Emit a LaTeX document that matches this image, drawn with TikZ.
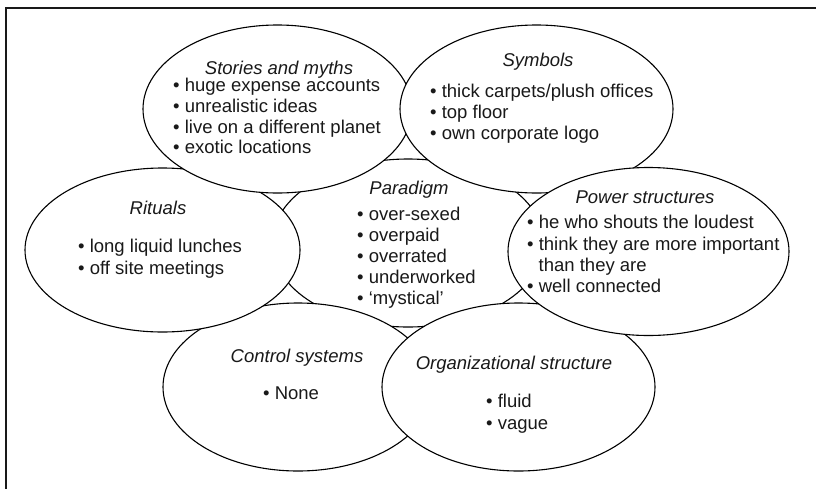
\documentclass[tikz,border=0pt]{standalone}
\usepackage{fontspec}
\setmainfont{Liberation Sans}
\begin{document}
\begin{tikzpicture}[x=1pt,y=-1pt,
  ell/.style={ellipse, draw=black, fill=white, line width=1.1pt, inner sep=0pt},
  frameline/.style={line width=1.8pt, draw=black!90},
  txt/.style={inner sep=0pt, font=\fontsize{18.5}{21}\selectfont, text=black!90},
  ttl/.style={txt, font=\fontsize{18.5}{21}\selectfont\itshape, anchor=base},
  itm/.style={txt, anchor=base west}]
\useasboundingbox (0,0) rectangle (816,488);
\tikzset{every node/.append style={}}
\usetikzlibrary{shapes.geometric}
\draw[frameline, line cap=rect] (6,492) -- (6,8) -- (820,8);
% ellipses in stacking order
\node[ell, minimum width=272pt, minimum height=168pt] (paradigm) at (408,243) {};
\node[ell, minimum width=270pt, minimum height=168pt] (control) at (298,387) {};
\node[ell, minimum width=273pt, minimum height=168pt] (org) at (518.5,387) {};
\node[ell, minimum width=275pt, minimum height=164pt] (rituals) at (162.5,250) {};
\node[ell, minimum width=269pt, minimum height=168pt] (stories) at (277.5,109) {};
\node[ell, minimum width=273pt, minimum height=168pt] (symbols) at (536.5,109) {};
\node[ell, minimum width=281pt, minimum height=168pt] (power) at (648.5,251.5) {};
% Stories and myths
\node[ttl] (storiesT) at (279,74) {Stories and myths};
\node[itm] (st1) at (173,91) {\textbullet\ huge expense accounts};
\node[itm] (st2) at (173,112) {\textbullet\ unrealistic ideas};
\node[itm] (st3) at (173,133) {\textbullet\ live on a different planet};
\node[itm] (st4) at (173,153) {\textbullet\ exotic locations};
% Symbols
\node[ttl] (symbolsT) at (538,66) {Symbols};
\node[itm] (sy1) at (430,97) {\textbullet\ thick carpets/plush offices};
\node[itm] (sy2) at (430,118) {\textbullet\ top floor};
\node[itm] (sy3) at (430,139) {\textbullet\ own corporate logo};
% Rituals
\node[ttl] (ritualsT) at (158,214) {Rituals};
\node[itm] (ri1) at (78,252) {\textbullet\ long liquid lunches};
\node[itm] (ri2) at (78,274) {\textbullet\ off site meetings};
% Paradigm
\node[ttl] (paradigmT) at (409,194) {Paradigm};
\node[itm] (pa1) at (357,220) {\textbullet\ over-sexed};
\node[itm] (pa2) at (357,241) {\textbullet\ overpaid};
\node[itm] (pa3) at (357,262) {\textbullet\ overrated};
\node[itm] (pa4) at (357,283) {\textbullet\ underworked};
\node[itm] (pa5) at (357,304) {\textbullet\ ‘mystical’};
% Power structures
\node[ttl] (powerT) at (645,203) {Power structures};
\node[itm] (po1) at (527,228) {\textbullet\ he who shouts the loudest};
\node[itm] (po2) at (527,250) {\textbullet\ think they are more important};
\node[itm] (po2b) at (538.5,271) {than they are};
\node[itm] (po3) at (527,292) {\textbullet\ well connected};
% Control systems
\node[ttl] (controlT) at (297,362) {Control systems};
\node[itm] (co1) at (263,399) {\textbullet\ None};
% Organizational structure
\node[ttl] (orgT) at (514,369) {Organizational structure};
\node[itm] (or1) at (486,407) {\textbullet\ fluid};
\node[itm] (or2) at (486,429) {\textbullet\ vague};
\end{tikzpicture}
\end{document}
